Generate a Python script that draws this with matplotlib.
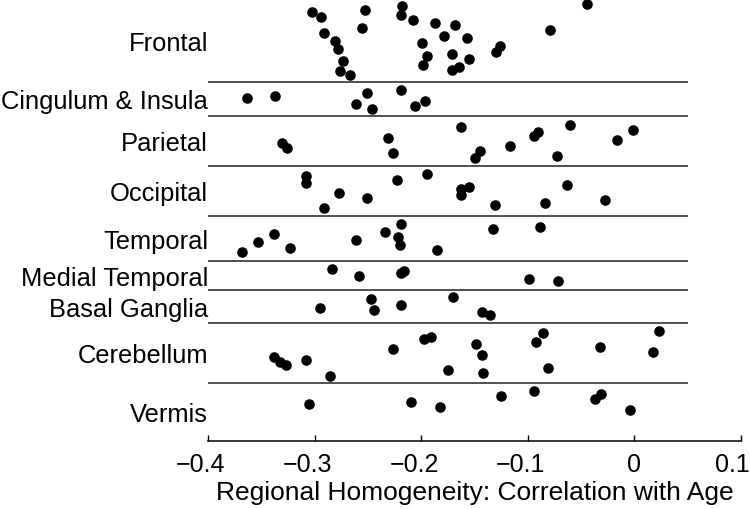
import matplotlib.pyplot as plt
import matplotlib.transforms as mtransforms

plt.rcParams['font.family'] = ['Liberation Sans', 'DejaVu Sans']

regions = ["Frontal", "Cingulum & Insula", "Parietal", "Occipital", "Temporal",
           "Medial Temporal", "Basal Ganglia", "Cerebellum", "Vermis"]
# band boundaries on the vertical (row) scale, top to bottom
row_edges = [0, 83, 117, 167, 217, 262, 291, 324, 384, 442]

frontal_r = [-0.302, -0.294, -0.253, -0.256, -0.218, -0.219, -0.208, -0.187, -0.168, -0.179,
             -0.157, -0.291, -0.281, -0.278, -0.273, -0.276, -0.267, -0.199, -0.195, -0.198,
             -0.171, -0.155, -0.171, -0.165, -0.130, -0.126, -0.079, -0.044]
frontal_row = [13, 18, 11, 29, 7, 16, 21, 24, 26, 37, 39, 34, 42, 50, 62, 72, 76, 44, 57, 66,
               55, 60, 71, 68, 53, 47, 31, 5]

cingulum_r = [-0.363, -0.337, -0.261, -0.251, -0.246, -0.219, -0.206, -0.196]
cingulum_row = [99, 97, 105, 94, 110, 91, 107, 102]

parietal_r = [-0.331, -0.326, -0.231, -0.226, -0.163, -0.145, -0.150, -0.117, -0.094, -0.090,
              -0.073, -0.060, -0.016, -0.001]
parietal_row = [144, 149, 139, 154, 128, 152, 159, 147, 137, 133, 157, 126, 141, 131]

occipital_r = [-0.308, -0.308, -0.291, -0.277, -0.251, -0.223, -0.195, -0.163, -0.155, -0.163,
               -0.131, -0.084, -0.063, -0.028]
occipital_row = [177, 184, 209, 194, 199, 181, 175, 190, 188, 196, 206, 204, 186, 201]

temporal_r = [-0.368, -0.353, -0.338, -0.323, -0.261, -0.234, -0.219, -0.222, -0.220, -0.185,
              -0.133, -0.089]
temporal_row = [253, 243, 235, 249, 241, 233, 225, 238, 246, 251, 230, 228]

medtemp_r = [-0.284, -0.258, -0.219, -0.216, -0.099, -0.072]
medtemp_row = [270, 277, 274, 272, 280, 282]

basal_r = [-0.295, -0.247, -0.244, -0.219, -0.170, -0.143, -0.135]
basal_row = [309, 300, 311, 306, 298, 313, 316]

cerebellum_r = [-0.338, -0.332, -0.327, -0.308, -0.286, -0.226, -0.197, -0.191, -0.175, -0.149,
                -0.143, -0.142, -0.092, -0.086, -0.081, -0.032, 0.017, 0.023]
cerebellum_row = [358, 363, 366, 361, 377, 350, 340, 338, 371, 345, 356, 374, 343, 334, 369,
                  348, 353, 332]

vermis_r = [-0.305, -0.210, -0.182, -0.125, -0.094, -0.037, -0.031, -0.004]
vermis_row = [405, 403, 408, 397, 392, 400, 395, 411]

xticks = [-0.4, -0.3, -0.2, -0.1, 0.0, 0.1]
xticklabels = ["\u22120.4", "\u22120.3", "\u22120.2", "\u22120.1", "0", "0.1"]

all_r = [frontal_r, cingulum_r, parietal_r, occipital_r, temporal_r,
         medtemp_r, basal_r, cerebellum_r, vermis_r]
all_row = [frontal_row, cingulum_row, parietal_row, occipital_row, temporal_row,
           medtemp_row, basal_row, cerebellum_row, vermis_row]

fig = plt.figure(figsize=(7.5, 5.1), dpi=100)
ax = fig.add_axes([208 / 750, 1 - 442 / 510, 533 / 750, 442 / 510])

for r, row in zip(all_r, all_row):
    ax.scatter(r, row, s=58, color='black', linewidths=0, clip_on=False, zorder=3)

ax.hlines(row_edges[1:-1], -0.4, 0.05, color='#222222', lw=1.1)

centers = [(a + b) / 2 for a, b in zip(row_edges[:-1], row_edges[1:])]
ax.set_yticks(centers)
ax.set_yticklabels(regions, fontsize=18.4)
ax.tick_params(axis='y', length=0, pad=0)

ax.set_xlim(-0.4, 0.1)
ax.set_ylim(row_edges[-1], row_edges[0])
ax.set_xticks(xticks)
ax.set_xticklabels(xticklabels, fontsize=18)
ax.tick_params(axis='x', direction='in', length=4, width=1, pad=8)
ax.set_xlabel("Regional Homogeneity: Correlation with Age", fontsize=19, labelpad=3)

# negative labels sit centred on their digits; the last one is pulled in from the edge
shift_neg = mtransforms.ScaledTranslation(-0.07, 0, fig.dpi_scale_trans)
shift_end = mtransforms.ScaledTranslation(-0.09, 0, fig.dpi_scale_trans)
for lab, v in zip(ax.get_xticklabels(), xticks):
    if v < 0:
        lab.set_transform(lab.get_transform() + shift_neg)
    elif v > 0:
        lab.set_transform(lab.get_transform() + shift_end)

for s in ['top', 'right', 'left']:
    ax.spines[s].set_visible(False)
ax.spines['bottom'].set_linewidth(1.1)

fig.savefig("out.png", dpi=100)
